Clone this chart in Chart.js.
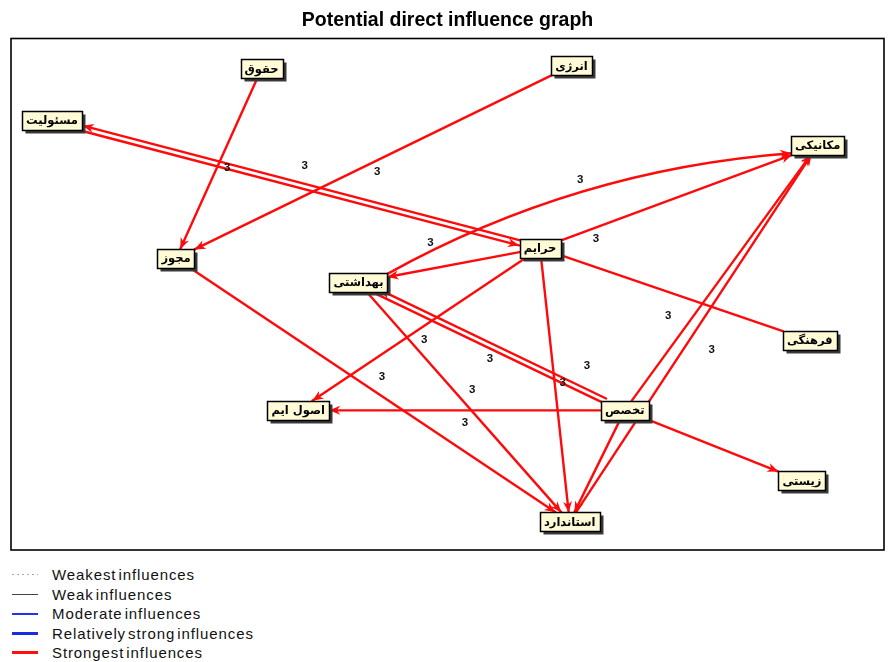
<!DOCTYPE html>
<html><head><meta charset="utf-8">
<script src="https://cdn.jsdelivr.net/npm/chart.js@4/dist/chart.umd.min.js"></script>
<style>
html,body{margin:0;padding:0;background:#fff}
body{width:889px;height:662px;overflow:hidden;position:relative;font-family:"Liberation Sans",Arial,sans-serif}
#c{position:absolute;left:0;top:0}
#legend{position:absolute;left:0;top:565px;width:340px;height:97px}
.row{position:absolute;left:0;width:340px;height:20px}
.ln{position:absolute;left:12px;width:26px}
.row span{position:absolute;left:52px;top:1px;font-size:15px;line-height:18px;color:#111;letter-spacing:0.9px;word-spacing:-3px;white-space:nowrap}
</style></head>
<body>
<canvas id="c" width="889" height="560"></canvas>
<div id="legend"></div>
<script>
// ---- data ----
const nodeNames = ['حقوق','انرژی','مسئولیت','مکانیکی','مجوز','بهداشتی','حرایم','فرهنگی','اصول ایم','تخصص','زیستی','استاندارد'];
const nodeX = [28.7, 64.2, 4.7, 92.4, 18.9, 39.8, 60.6, 91.5, 32.9, 70.3, 90.6, 64.0];
const nodeY = [94.1, 94.7, 84.0, 79.1, 57.0, 52.3, 59.0, 41.0, 27.3, 27.3, 13.5, 5.5];
const edgeFrom = ['حقوق','انرژی','مسئولیت','حرایم','حرایم','بهداشتی','حرایم','حرایم','حرایم','حرایم','مجوز','بهداشتی','تخصص','بهداشتی','تخصص','تخصص','تخصص','تخصص','استاندارد'];
const edgeTo   = ['مجوز','مجوز','حرایم','مسئولیت','بهداشتی','مکانیکی','مکانیکی','اصول ایم','استاندارد','فرهنگی','استاندارد','استاندارد','بهداشتی','تخصص','اصول ایم','زیستی','مکانیکی','استاندارد','مکانیکی'];
const edgeValue = [3,3,3,3,3,3,3,3,3,3,3,3,3,3,3,3,3,3,3];
const legendLabels = ['Weakest influences','Weak influences','Moderate influences','Relatively strong influences','Strongest influences'];
const titleText = 'Potential direct influence graph';

// ---- drawing styles (not data) ----
const edgeShape = {2:'pair',3:'pair',12:'pair',13:'pair',5:'curve'};
const noArrow = {9:true,13:true};
// label placement along each edge: [t, dx, dy]
const labelPlace = {1:[0.491,0,12],2:[0.518,0,-21],3:[0.641,0,2],4:[0.604,0,-26],5:[0.483,0,-36],
  6:[0.201,0,11],7:[0.479,0,14],8:[0.493,8,0],10:[0.523,0,-19],11:[0.538,0,-21],12:[0.506,0,13],
  13:[0.858,0,-26],14:[0.489,0,12],16:[0.355,-25,0],18:[0.456,29,0]};
const legendStyles = [
  {top:9, h:1, bg:'repeating-linear-gradient(90deg,#aaa 0 2px,transparent 2px 5px)'},
  {top:9, h:1.5, bg:'#444'},
  {top:9, h:1.5, bg:'#2233ee'},
  {top:8, h:3, bg:'#1a2be0'},
  {top:8, h:3, bg:'#ff1010'}];

const lg = document.getElementById('legend');
legendLabels.forEach((t,i)=>{
  const r = document.createElement('div'); r.className='row'; r.style.top=(i*19.5)+'px';
  const l = document.createElement('div'); l.className='ln';
  l.style.top = legendStyles[i].top+'px'; l.style.height = legendStyles[i].h+'px'; l.style.background = legendStyles[i].bg;
  const s = document.createElement('span'); s.textContent=t;
  r.appendChild(l); r.appendChild(s); lg.appendChild(r);
});

const RED = '#ff0a0a';
const BOX_H = 19;
const NODE_FONT = 'bold 11.5px "DejaVu Sans", sans-serif';

function boxes(chart){
  const ctx = chart.ctx; ctx.save(); ctx.font = NODE_FONT;
  const meta = chart.getDatasetMeta(0);
  const res = {};
  nodeNames.forEach((n,i)=>{
    const p = meta.data[i];
    const w = Math.round(ctx.measureText(n).width + 8);
    res[n] = {x:p.x, y:p.y, hw:w/2, hh:BOX_H/2, w:w};
  });
  ctx.restore();
  return res;
}
function clip(b, dx, dy, ox, oy){
  const adx=Math.abs(dx), ady=Math.abs(dy);
  const t = Math.min(adx>1e-9?b.hw/adx:1e9, ady>1e-9?b.hh/ady:1e9);
  return {x:b.x+ox+dx*t, y:b.y+oy+dy*t};
}
function arrow(ctx, tip, ux, uy){
  const L=11, W=4.5;
  ctx.beginPath();
  ctx.moveTo(tip.x, tip.y);
  ctx.lineTo(tip.x-ux*L - uy*W, tip.y-uy*L + ux*W);
  ctx.lineTo(tip.x-ux*L*0.7, tip.y-uy*L*0.7);
  ctx.lineTo(tip.x-ux*L + uy*W, tip.y-uy*L - ux*W);
  ctx.closePath(); ctx.fill();
}

const graphPlugin = {
  id:'graph',
  beforeDatasetsDraw(chart){
    const ctx = chart.ctx, a = chart.chartArea;
    ctx.save();
    ctx.strokeStyle='#000'; ctx.lineWidth=1.6;
    ctx.strokeRect(a.left, a.top, a.right-a.left, a.bottom-a.top);
    const B = boxes(chart);
    ctx.strokeStyle=RED; ctx.fillStyle=RED; ctx.lineWidth=2.4; ctx.lineCap='round';
    edgeFrom.forEach((f,i)=>{
      const A=B[f], C=B[edgeTo[i]];
      let dx=C.x-A.x, dy=C.y-A.y; const len=Math.hypot(dx,dy); const ux=dx/len, uy=dy/len;
      const nx=-uy, ny=ux;
      const shape = edgeShape[i];
      if(shape==='curve'){
        const s = clip(A, ux, uy, 0, 0), e = clip(C, -ux, -uy, 0, 0);
        const bulge = 46;
        const sg = (ny<0)?1:-1; // bulge upward
        const ccx=(s.x+e.x)/2 + nx*bulge*sg, ccy=(s.y+e.y)/2 + ny*bulge*sg;
        ctx.beginPath(); ctx.moveTo(s.x,s.y); ctx.quadraticCurveTo(ccx,ccy,e.x,e.y); ctx.stroke();
        if(!noArrow[i]){ let ax=e.x-ccx, ay=e.y-ccy; const l=Math.hypot(ax,ay); arrow(ctx,e,ax/l,ay/l); }
      } else {
        const off = shape==='pair'?2.6:0;
        const ox=nx*off, oy=ny*off;
        const s = clip(A, ux, uy, ox, oy), e = clip(C, -ux, -uy, ox, oy);
        ctx.beginPath(); ctx.moveTo(s.x,s.y); ctx.lineTo(e.x,e.y); ctx.stroke();
        if(!noArrow[i]) arrow(ctx, e, ux, uy);
      }
    });
    // value labels
    ctx.fillStyle='#111'; ctx.font='bold 11.5px "Liberation Sans", Arial, sans-serif';
    ctx.textAlign='center'; ctx.textBaseline='middle';
    edgeFrom.forEach((f,i)=>{
      const lp = labelPlace[i]; if(!lp) return;
      const A=B[f], C=B[edgeTo[i]];
      const x = A.x+(C.x-A.x)*lp[0]+lp[1], y=A.y+(C.y-A.y)*lp[0]+lp[2];
      ctx.fillText(String(edgeValue[i]), x, y);
    });
    ctx.restore();
  },
  afterDatasetsDraw(chart){
    const ctx = chart.ctx; const B = boxes(chart);
    ctx.save();
    nodeNames.forEach(n=>{
      const b=B[n]; const x=Math.round(b.x-b.hw)+0.5, y=Math.round(b.y-b.hh)+0.5;
      ctx.fillStyle='#3a3a3a'; ctx.fillRect(x+3, y+3, b.w, BOX_H);
      ctx.fillStyle='#fffbd6'; ctx.fillRect(x, y, b.w, BOX_H);
      ctx.strokeStyle='#000'; ctx.lineWidth=1.5; ctx.strokeRect(x, y, b.w, BOX_H);
      ctx.fillStyle='#000'; ctx.font=NODE_FONT; ctx.textAlign='center'; ctx.textBaseline='middle';
      ctx.direction='rtl';
      ctx.fillText(n, b.x, b.y+1);
    });
    ctx.restore();
  }
};

new Chart(document.getElementById('c'), {
  type:'scatter',
  data:{ datasets:[{ label:'nodes', data: nodeX.map((x,i)=>({x, y:nodeY[i]})), pointRadius:0, pointHoverRadius:0 }] },
  options:{
    responsive:false, maintainAspectRatio:false, animation:false, devicePixelRatio:1,
    layout:{ padding:{ left:11, right:5, top:0, bottom:10 } },
    scales:{ x:{ type:'linear', min:0, max:100, display:false }, y:{ type:'linear', min:0, max:100, display:false } },
    plugins:{
      legend:{ display:false }, tooltip:{ enabled:false },
      title:{ display:true, text:titleText, color:'#000', font:{ size:19.5, weight:'bold', lineHeight:1.0, family:'"Liberation Sans", Arial, sans-serif' }, padding:{ top:11, bottom:8 } }
    }
  },
  plugins:[graphPlugin]
});
</script>
</body></html>
